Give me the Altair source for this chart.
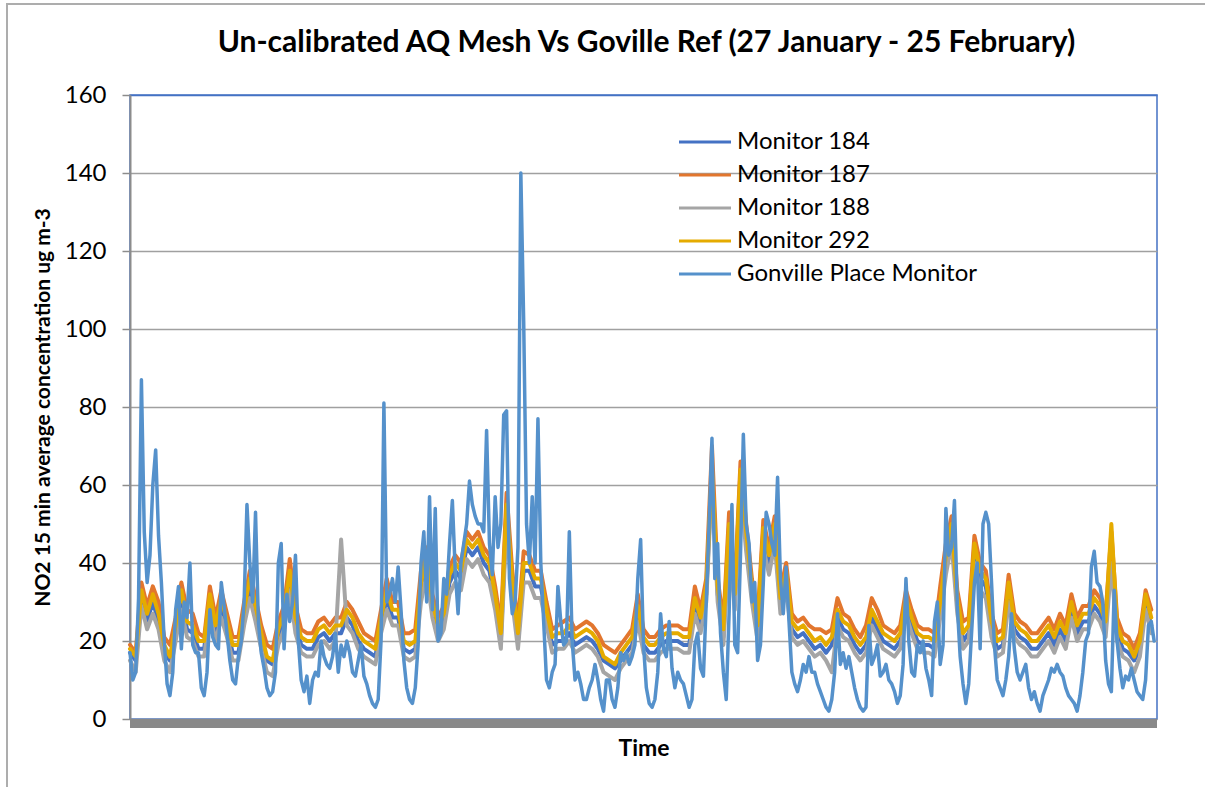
import altair as alt
import pandas as pd

# ---------------- data ----------------
# Gonville Place reference monitor: one value every 2 hours, 27 Jan 00:00 -> 25 Feb 22:00
gonville = [
    17, 10, 12, 31, 87, 48, 35, 42, 60, 69, 47, 35,
    20, 9, 6, 12, 28, 34, 18, 30, 26, 40, 19, 17,
    17, 8, 6, 12, 28, 21, 19, 18, 35, 29, 22, 15,
    10, 9, 16, 20, 30, 55, 40, 30, 53, 25, 17, 13,
    8, 6, 7, 12, 40, 45, 18, 32, 25, 30, 42, 20,
    10, 7, 11, 4, 10, 12, 11, 20, 16, 14, 13, 16,
    22, 12, 19, 16, 20, 17, 12, 11, 15, 19, 11, 9,
    6, 4, 3, 5, 20, 81, 30, 32, 36, 30, 39, 28,
    15, 8, 5, 4, 8, 19, 40, 48, 30, 57, 28, 54,
    20, 22, 36, 32, 45, 56, 38, 27, 40, 45, 50, 61,
    55, 52, 50, 50, 48, 74, 45, 37, 57, 44, 50, 78,
    79, 36, 27, 30, 44, 140, 102, 50, 40, 57, 40, 77,
    40, 25, 10, 8, 12, 14, 34, 25, 19, 20, 48, 20,
    10, 12, 9, 5, 5, 8, 10, 14, 10, 5, 2, 10,
    10, 5, 3, 8, 17, 15, 17, 14, 16, 19, 36, 46,
    19, 8, 4, 3, 5, 12, 27, 18, 16, 25, 13, 8,
    12, 10, 9, 6, 3, 5, 19, 22, 13, 11, 30, 50,
    72, 36, 45, 22, 12, 5, 27, 55, 19, 17, 42, 73,
    50, 45, 30, 35, 15, 19, 35, 53, 50, 45, 42, 62,
    36, 27, 39, 25, 12, 9, 7, 10, 14, 12, 16, 12,
    12, 9, 7, 5, 3, 2, 5, 12, 27, 14, 17, 13,
    16, 12, 8, 5, 3, 2, 3, 24, 14, 16, 19, 11,
    12, 14, 10, 9, 7, 4, 6, 14, 36, 20, 12, 11,
    19, 17, 20, 13, 10, 6, 25, 30, 14, 19, 54, 42,
    44, 56, 29, 16, 9, 4, 9, 22, 35, 40, 18, 50,
    53, 50, 35, 19, 10, 8, 6, 10, 16, 27, 18, 12,
    10, 12, 14, 8, 5, 7, 4, 2, 6, 8, 10, 13,
    12, 14, 12, 11, 8, 6, 5, 4, 2, 6, 12, 20,
    22, 39, 43, 35, 34, 30, 15, 9, 7, 33, 20, 13,
    8, 11, 10, 13, 10, 7, 6, 5, 10, 24, 25, 20,
]

# AQ Mesh monitors: one value every 4 hours
monitor_184 = [
    17, 15, 31, 25, 30, 25,  17, 15, 22, 31, 23, 22,  18, 18, 30, 22, 29, 23,
    17, 17, 26, 34, 27, 20,  15, 14, 21, 25, 36, 24,  19, 18, 18, 21, 22, 20,
    22, 22, 26, 24, 20, 18,  17, 16, 24, 31, 26, 26,  18, 17, 18, 33, 40, 28,
    22, 25, 35, 38, 36, 44,  42, 44, 40, 38, 30, 20,  53, 33, 20, 38, 38, 34,
    34, 26, 19, 20, 20, 22,  19, 20, 21, 20, 18, 15,  14, 13, 15, 17, 19, 27,
    19, 17, 17, 19, 20, 20,  20, 19, 19, 29, 24, 32,  63, 32, 21, 48, 30, 62,
    46, 32, 22, 47, 40, 48,  29, 36, 23, 21, 22, 20,  18, 19, 17, 19, 26, 23,
    22, 19, 17, 19, 26, 23,  20, 19, 18, 20, 29, 24,  20, 19, 19, 18, 28, 40,
    48, 29, 20, 22, 43, 36,  34, 23, 18, 19, 33, 23,  21, 20, 18, 18, 20, 22,
    19, 23, 20, 28, 22, 25,  25, 29, 27, 23, 44, 22,  18, 17, 15, 18, 30, 24,
]
monitor_187 = [
    19, 17, 35, 29, 34, 30,  21, 19, 26, 35, 28, 27,  22, 21, 34, 26, 33, 27,
    21, 21, 30, 38, 31, 24,  19, 18, 25, 29, 41, 29,  23, 22, 22, 25, 26, 24,
    26, 26, 30, 28, 25, 22,  21, 20, 28, 36, 30, 30,  22, 22, 23, 38, 44, 32,
    26, 29, 39, 42, 40, 48,  46, 48, 44, 42, 34, 24,  58, 38, 24, 43, 42, 38,
    38, 30, 23, 24, 25, 26,  23, 24, 25, 24, 22, 19,  18, 17, 19, 21, 23, 32,
    23, 21, 21, 23, 24, 24,  24, 23, 23, 34, 28, 36,  70, 36, 25, 53, 34, 66,
    50, 36, 26, 51, 44, 52,  33, 40, 27, 25, 26, 24,  23, 23, 22, 23, 31, 27,
    26, 23, 21, 24, 31, 28,  24, 23, 22, 24, 33, 28,  24, 23, 23, 22, 34, 45,
    52, 33, 25, 26, 47, 40,  38, 27, 22, 23, 37, 27,  25, 24, 22, 22, 24, 26,
    23, 27, 24, 32, 26, 29,  29, 33, 31, 27, 48, 26,  22, 21, 18, 22, 33, 28,
]
monitor_188 = [
    15, 12, 29, 23, 27, 23,  15, 12, 20, 28, 21, 20,  16, 16, 27, 20, 26, 21,
    15, 15, 24, 31, 25, 18,  12, 11, 19, 23, 33, 22,  17, 16, 16, 19, 20, 18,
    20, 46, 24, 22, 18, 16,  15, 14, 22, 28, 24, 24,  16, 15, 16, 30, 37, 26,
    20, 23, 32, 35, 33, 41,  39, 41, 37, 35, 28, 18,  50, 30, 18, 35, 35, 31,
    31, 24, 17, 18, 18, 20,  17, 18, 19, 18, 16, 12,  11, 10, 13, 15, 17, 25,
    17, 15, 15, 17, 18, 18,  18, 17, 17, 27, 22, 30,  62, 30, 19, 45, 28, 59,
    43, 30, 20, 44, 37, 45,  27, 33, 21, 19, 20, 18,  16, 17, 15, 12, 24, 21,
    20, 17, 15, 17, 24, 21,  18, 17, 16, 18, 27, 22,  18, 17, 17, 16, 26, 37,
    45, 27, 18, 20, 40, 33,  31, 21, 16, 17, 30, 21,  19, 18, 16, 16, 18, 20,
    17, 21, 18, 26, 20, 23,  23, 27, 25, 21, 40, 20,  16, 15, 12, 16, 28, 22,
]
monitor_292 = [
    18, 16, 33, 27, 32, 27,  19, 16, 24, 33, 25, 24,  20, 20, 32, 24, 31, 25,
    19, 19, 28, 36, 29, 22,  16, 15, 23, 27, 38, 26,  21, 20, 20, 23, 24, 22,
    24, 24, 28, 26, 22, 20,  19, 18, 26, 33, 28, 28,  20, 19, 20, 35, 42, 30,
    24, 27, 37, 40, 38, 46,  44, 46, 42, 40, 32, 22,  55, 35, 22, 40, 40, 36,
    36, 28, 21, 22, 22, 24,  21, 22, 23, 22, 20, 16,  15, 14, 17, 19, 21, 29,
    21, 19, 19, 21, 22, 22,  22, 21, 21, 31, 26, 34,  64, 34, 23, 50, 32, 64,
    48, 34, 24, 49, 42, 50,  31, 38, 25, 23, 24, 22,  20, 21, 19, 21, 28, 25,
    24, 21, 19, 21, 28, 25,  22, 21, 20, 22, 31, 26,  22, 21, 21, 20, 30, 42,
    50, 31, 22, 24, 45, 38,  36, 25, 20, 21, 35, 25,  23, 22, 20, 20, 22, 24,
    21, 25, 22, 30, 24, 27,  27, 31, 29, 25, 50, 24,  20, 19, 16, 20, 32, 26,
]

series_names = ["Monitor 184", "Monitor 187", "Monitor 188", "Monitor 292",
                "Gonville Place Monitor"]
series_colors = ["#4472C4", "#E2762E", "#A5A5A5", "#E5AB00", "#5591CB"]
series_widths = [4, 4, 4, 4, 3.5]
y_ticks = [0, 20, 40, 60, 80, 100, 120, 140, 160]

title_text = "Un-calibrated AQ Mesh Vs Goville Ref (27 January - 25 February)"
y_title = "NO2 15 min average concentration ug m-3"
x_title = "Time"

# ---------------- table ----------------
rows = []
for name, vals, step in [
    ("Monitor 184", monitor_184, 4),
    ("Monitor 187", monitor_187, 4),
    ("Monitor 188", monitor_188, 4),
    ("Monitor 292", monitor_292, 4),
    ("Gonville Place Monitor", gonville, 2),
]:
    for i, v in enumerate(vals):
        rows.append({"series": name, "hour": i * step, "value": v})
df = pd.DataFrame(rows)

W, H = 1027, 624
FONT = "Lato"

x_enc = alt.X("hour:Q", scale=alt.Scale(domain=[0, 720], nice=False, zero=False),
              axis=alt.Axis(labels=False, ticks=False, domain=False, grid=False,
                            title=x_title, titleFont=FONT, titleFontSize=23,
                            titleFontWeight="bold", titleColor="black",
                            titleY=29, titleBaseline="middle"))
y_enc = alt.Y("value:Q", scale=alt.Scale(domain=[0, 160], nice=False),
              axis=alt.Axis(values=y_ticks, grid=True,
                            gridColor=alt.condition(alt.datum.value == 160,
                                                    alt.value("#4472C4"),
                                                    alt.value("#A0A0A0")),
                            gridWidth=1.5,
                            domainColor="#8C8C8C", domainWidth=2,
                            tickColor="#8C8C8C", tickSize=8, tickWidth=1.5,
                            labelFont=FONT, labelFontSize=24, labelColor="black",
                            labelPadding=16,
                            title=y_title, titleFont=FONT, titleFontSize=21,
                            titleFontWeight="bold", titleColor="black",
                            titleX=-87, titleY=H / 2, titleAngle=-90,
                            titleAlign="center", titleBaseline="middle"))
color_enc = alt.Color("series:N",
                      scale=alt.Scale(domain=series_names, range=series_colors),
                      legend=alt.Legend(orient="none", legendX=563, legendY=35,
                                        title=None, symbolType="M-2.6,0H2.6",
                                        symbolSize=400, symbolStrokeWidth=3,
                                        labelFont=FONT, labelFontSize=24,
                                        labelColor="black", labelOffset=20,
                                        rowPadding=9, padding=0, labelLimit=0))

one = alt.Data(values=[{"k": 0}])

frame = alt.Chart(one).mark_rect(fillOpacity=0, stroke="#ADADAD", strokeWidth=2).encode(
    x=alt.value(-123), x2=alt.value(W + 100), y=alt.value(-91), y2=alt.value(H + 120))

title_mark = alt.Chart(one).mark_text(
    text=title_text, font=FONT, fontSize=30, fontWeight="bold", color="black",
    align="center", baseline="alphabetic").encode(
    x=alt.value(W / 2 + 3), y=alt.value(-43))

layers = [frame, title_mark]
for name, sw in zip(series_names, series_widths):
    layers.append(
        alt.Chart(df).transform_filter(alt.datum.series == name)
        .mark_line(strokeWidth=sw, strokeJoin="round", strokeCap="round")
        .encode(x=x_enc, y=y_enc, color=color_enc)
    )

band = alt.Chart(one).mark_rect(color="#898989").encode(
    x=alt.value(0), x2=alt.value(W), y=alt.value(H), y2=alt.value(H + 9))
layers.append(band)

chart = alt.layer(*layers).properties(
    width=W, height=H,
    autosize=alt.AutoSizeParams(type="none"),
    padding={"left": 130, "top": 95, "right": 48, "bottom": 68},
    background="white",
).configure_view(stroke="#4472C4", strokeWidth=1.5)

chart.save("out.html", embed_options={"renderer": "svg", "actions": False})
